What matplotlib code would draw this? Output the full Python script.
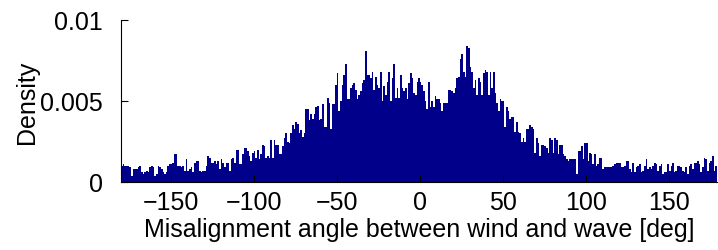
import numpy as np
import matplotlib
matplotlib.use("Agg")
import matplotlib.pyplot as plt

# Density values in units of 1e-4, one per 1-degree bin
dens_m180_m91 = [10,11,10,10,10, 9,4, 8,8,8,9,10, 6,5,6,7,6,9, 10, 9,4, 5,10, 9,8,6,5,
                 6,10,11,11, 12,17,17, 10,10,9,10, 7,14, 7,8, 9,6,12, 13,13, 7,6,7,7,
                 10,16,15, 12,12,13,11, 13,8,14, 12,9,12,12, 7,14,15, 12,20,20, 11,11,
                 17,21,21, 19,16,13, 18,19,15, 20,14,17, 23,22, 15,16,15]
dens_m90_m1 = [26,15,26,23,23,17,17,22,27,30, 25,24,30,35,33,37,36,30,32,28,
               30,45,45,38,42,39,42,46,47,38, 39,48,34,34,52,49,33,48,48,60,
               67,44,50,60,66,73,51,51,58,60, 61,57,51,54,56,61,63,81,66,66,
               64,68,57,65,60,58,68,50,59,54, 62,68,50,64,73,52,58,52,66,58,
               56,58,51,61,67,64,55,54,62,64]
dens_0_89 = [62,60,56,50,45,62,46,50,46,53, 51,51,49,44,49,49,49,57,57,56,
             55,58,64,65,76,79,68,65,84,83, 71,68,58,63,54,64,62,54,67,69,
             68,54,68,58,68,55,49,44,51,50, 50,34,46,44,39,40,40,31,37,31,
             30,25,27,25,33,33,35,34,33,18, 27,24,16,23,23,22,21,18,27,26,
             18,27,26,17,23,23,17,16,14,13]
dens_90_179 = [14,14,14,14,5,19,19,22,14,24, 24,13,18,17,11,17,10,11,15,15,
               8,9,9,9,9,9,10,11,12,12, 12,9,9,10,13,13,8,6,12,6,
               9,10,11,6,7,10,14,8,9,8, 10,12,11,7,10,11,5,6,6,11,
               7,10,12,6,7,10,10,9,7,6, 9,5,10,11,8,12,12,13,11,6,
               9,15,14,7,12,13,16,7,10,10]

bin_edges = np.arange(-180, 181, 1)
density = np.array(dens_m180_m91 + dens_m90_m1 + dens_0_89 + dens_90_179) * 1e-4

xticks = [-150, -100, -50, 0, 50, 100, 150]
yticks = [0, 0.005, 0.01]
yticklabels = ["0", "0.005", "0.01"]

plt.rcParams['font.family'] = ['Liberation Sans', 'DejaVu Sans']
FS = 18

fig = plt.figure(figsize=(7.18, 2.51), dpi=100)
ax = fig.add_axes([121/718, (251-183)/251, 596/718, 162/251])

ax.stairs(density, bin_edges, fill=True, color='#00008B', linewidth=0)

ax.set_xlim(-180, 179)
ax.set_ylim(0, 0.01)
ax.set_xticks(xticks)
ax.set_xticklabels([str(t).replace('-', '\u2212') for t in xticks])
ax.set_yticks(yticks)
ax.set_yticklabels(yticklabels)

for s in ['top', 'right']:
    ax.spines[s].set_visible(False)
for s in ['left', 'bottom']:
    ax.spines[s].set_linewidth(0.8)

ax.tick_params(axis='both', direction='in', length=5, width=0.8, labelsize=FS)
ax.tick_params(axis='y', pad=13)
ax.tick_params(axis='x', pad=6)

ax.set_xlabel('Misalignment angle between wind and wave [deg]', fontsize=FS, labelpad=2)
ax.set_ylabel('Density', fontsize=FS, labelpad=1)

fig.savefig('out.png', dpi=100)
